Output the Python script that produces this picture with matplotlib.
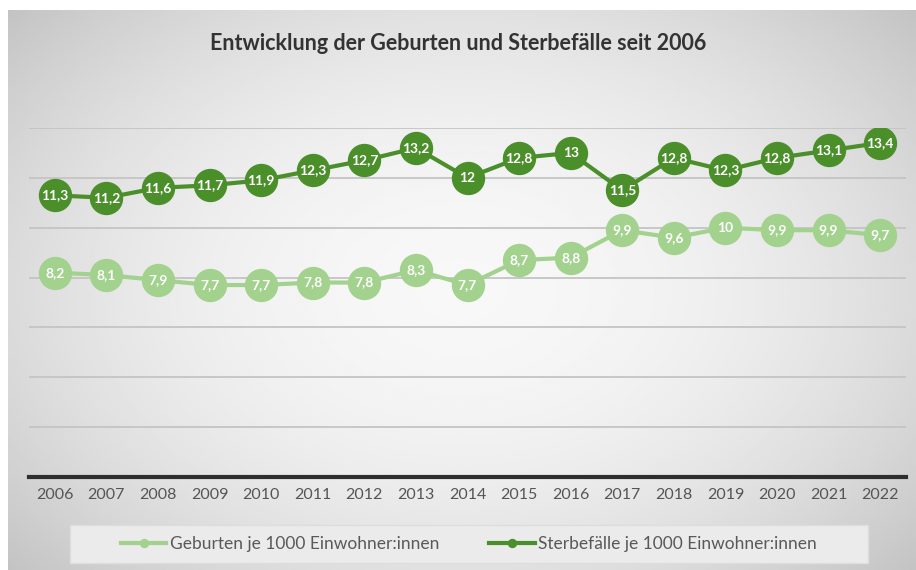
import numpy as np
import matplotlib.pyplot as plt
from matplotlib.patches import Rectangle

plt.rcParams['font.family'] = ['Lato', 'DejaVu Sans']

jahre = [str(j) for j in range(2006, 2023)]
geburten = [8.2, 8.1, 7.9, 7.7, 7.7, 7.8, 7.8, 8.3, 7.7, 8.7, 8.8, 9.9, 9.6, 10, 9.9, 9.9, 9.7]
sterbefaelle = [11.3, 11.2, 11.6, 11.7, 11.9, 12.3, 12.7, 13.2, 12, 12.8, 13, 11.5, 12.8, 12.3, 12.8, 13.1, 13.4]

hell = '#a2d28d'
dunkel = '#4b8f2b'

W, H = 916, 570
fig = plt.figure(figsize=(W / 100, H / 100), dpi=100, facecolor='white')

# Hintergrund mit Verlauf
bg = fig.add_axes([8 / W, 0, 1 - 8 / W, 1 - 10 / H])
yy, xx = np.mgrid[-1:1:200j, -1:1:300j]
r = np.sqrt((xx * 0.9) ** 2 + (yy * 0.8) ** 2)
grad = 0.97 - 0.14 * np.clip(r, 0, 1.3) ** 2
bg.imshow(grad, cmap='gray', vmin=0, vmax=1, aspect='auto', extent=[0, 1, 0, 1])
bg.axis('off')

# Legendenkasten
fig.patches.append(Rectangle((70 / W, 1 - 563 / H), (868 - 70) / W, 38 / H, transform=fig.transFigure,
                             facecolor='#ebebeb', edgecolor='#dddddd', lw=1, zorder=1))

ax = fig.add_axes([29 / W, (H - 477) / H, (906 - 29) / W, (477 - 128) / H])
ax.patch.set_alpha(0)
x = np.arange(len(jahre))

ax.plot(x, geburten, color=hell, lw=3, marker='o', ms=23, mfc=hell, mec=hell, zorder=3,
        label='Geburten je 1000 Einwohner:innen')
ax.plot(x, sterbefaelle, color=dunkel, lw=3, marker='o', ms=23, mfc=dunkel, mec=dunkel, zorder=3,
        label='Sterbefälle je 1000 Einwohner:innen')

for xi, g, s in zip(x, geburten, sterbefaelle):
    ax.text(xi, g, f'{g:g}'.replace('.', ','), ha='center', va='center', color='white',
            fontsize=10, fontweight='bold', zorder=4)
    ax.text(xi, s, f'{s:g}'.replace('.', ','), ha='center', va='center', color='white',
            fontsize=10, fontweight='bold', zorder=4)

ax.set_xlim(-0.5, len(jahre) - 0.5)
ax.set_ylim(0, 14)
ax.set_yticks(np.arange(2, 15, 2))
ax.set_yticklabels([])
ax.tick_params(axis='y', length=0)
ax.grid(axis='y', color='#c4c4c4', lw=1.3)
ax.set_axisbelow(True)
for side in ['left', 'right', 'top']:
    ax.spines[side].set_visible(False)
ax.spines['bottom'].set_color('#2e2e2e')
ax.spines['bottom'].set_linewidth(3)
ax.set_xticks(x)
ax.set_xticklabels(jahre, fontsize=11.5, color='#555555')
ax.tick_params(axis='x', length=0, pad=8)

fig.text(0.5, 1 - 44 / H, 'Entwicklung der Geburten und Sterbefälle seit 2006', ha='center', va='center',
         fontsize=15.5, fontweight='bold', color='#333333')

leg = fig.legend(loc='center', bbox_to_anchor=(469 / W, 1 - 544 / H), ncol=2, frameon=False,
                 fontsize=12.5, markerscale=0.25, handlelength=2.6, handletextpad=0.2,
                 columnspacing=2.9, borderpad=0.3, borderaxespad=0, labelcolor='#595959')

fig.savefig('out.png', dpi=100)
